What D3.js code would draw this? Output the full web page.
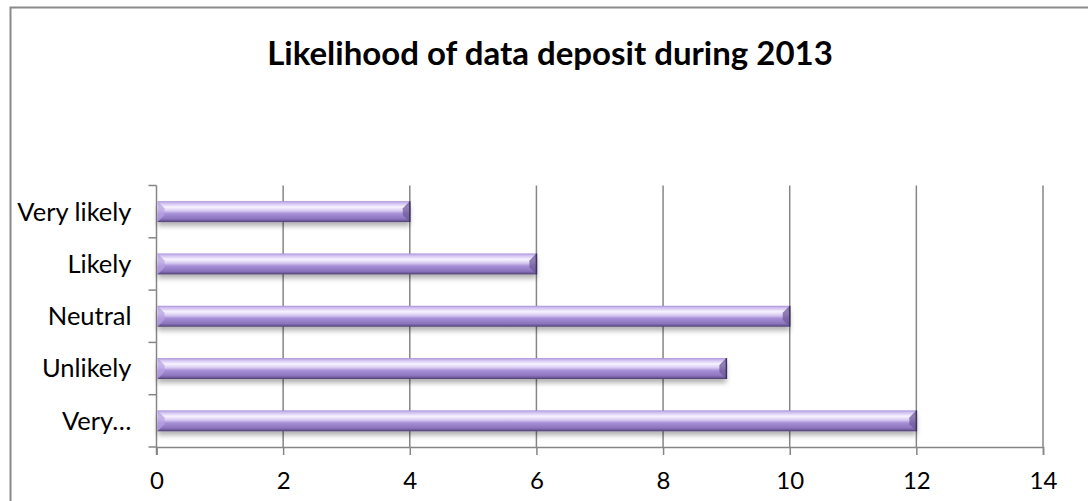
<!DOCTYPE html>
<html>
<head>
<meta charset="utf-8">
<script src="https://cdn.jsdelivr.net/npm/d3@7"></script>
<style>
  body { margin: 0; background: #fff; }
  svg { display: block; }
  text { font-family: "Lato", "Open Sans", sans-serif; fill: #000; }
</style>
</head>
<body>
<div id="chart"></div>
<script>
// chart data
const categories = ["Very likely", "Likely", "Neutral", "Unlikely", "Very\u2026"]
const values = [4, 6, 10, 9, 12]
const xTicks = [0, 2, 4, 6, 8, 10, 12, 14]
const title = "Likelihood of data deposit during 2013"

const W = 1088, H = 501
const margin = {top: 185.5, right: 45, bottom: 54, left: 156.5}
const width = W - margin.left - margin.right,
  height = H - margin.top - margin.bottom

const svg = d3.select("#chart")
  .append("svg")
  .attr("width", W)
  .attr("height", H)

// gradients for the bevelled bars
const defs = svg.append("defs")
const grad = defs.append("linearGradient")
  .attr("id", "barGrad")
  .attr("x1", 0).attr("y1", 0).attr("x2", 0).attr("y2", 1)
const stops = [
  [0, "#a78fd6"], [0.08, "#cbb9ef"], [0.28, "#f8f3ff"], [0.45, "#d9ccf2"],
  [0.6, "#a68fd6"], [0.85, "#8b74bd"], [0.93, "#6d5998"], [1, "#4d3e70"]
]
stops.forEach(s => grad.append("stop").attr("offset", s[0]).attr("stop-color", s[1]))

const shadow = defs.append("filter")
  .attr("id", "shadow")
  .attr("x", -0.05).attr("y", -0.3).attr("width", 1.1).attr("height", 1.8)
shadow.append("feDropShadow")
  .attr("dx", 0).attr("dy", 4).attr("stdDeviation", 2.5)
  .attr("flood-color", "#000").attr("flood-opacity", 0.3)

// outer frame
svg.append("rect")
  .attr("x", 10.5).attr("y", 7.5)
  .attr("width", W + 10).attr("height", H + 10)
  .attr("fill", "none")
  .attr("stroke", "#8a8a8a")
  .attr("stroke-width", 2)

// title
svg.append("text")
  .attr("x", 550)
  .attr("y", 65)
  .attr("text-anchor", "middle")
  .style("font-size", "33px")
  .style("font-weight", "bold")
  .text(title)

const g = svg.append("g")
  .attr("transform", `translate(${margin.left}, ${margin.top})`)

const x = d3.scaleLinear()
  .domain([0, 14])
  .range([0, width])

const y = d3.scaleBand()
  .domain(categories)
  .range([0, height])
  .paddingInner(0.6)
  .paddingOuter(0.3)

const yTicks = d3.scaleBand().domain(categories).range([0, height])

// vertical gridlines
g.append("g")
  .selectAll("line")
  .data(xTicks.filter(d => d > 0))
  .join("line")
    .attr("x1", d => x(d)).attr("x2", d => x(d))
    .attr("y1", 0).attr("y2", height)
    .attr("stroke", "#868686")
    .attr("stroke-width", 1.5)

// x axis
const xAxis = g.append("g")
  .attr("transform", `translate(0, ${height})`)
  .call(d3.axisBottom(x).tickValues(xTicks).tickSize(8).tickPadding(17).tickFormat(d3.format("d")))
xAxis.select(".domain").attr("stroke", "#868686").attr("stroke-width", 1.5)
xAxis.selectAll(".tick line").attr("stroke", "#868686").attr("stroke-width", 1.5)
xAxis.selectAll("text").style("font-size", "24px").style("font-family", "Lato, sans-serif").attr("fill", "#000")

// y axis ticks at band boundaries
const bounds = categories.map(c => yTicks(c)).concat([height])
g.append("g")
  .selectAll("line")
  .data(bounds)
  .join("line")
    .attr("x1", -8).attr("x2", 0)
    .attr("y1", d => d).attr("y2", d => d)
    .attr("stroke", "#868686")
    .attr("stroke-width", 1.5)

g.append("line")
  .attr("x1", 0).attr("x2", 0)
  .attr("y1", 0).attr("y2", height + 8)
  .attr("stroke", "#868686")
  .attr("stroke-width", 1.5)

// category labels
g.append("g")
  .selectAll("text")
  .data(categories)
  .join("text")
    .attr("x", -25)
    .attr("y", d => yTicks(d) + yTicks.bandwidth() / 2)
    .attr("dy", "0.35em")
    .attr("text-anchor", "end")
    .style("font-size", "25.5px")
    .text(d => d)

// bars
const bars = g.append("g")
  .selectAll("g")
  .data(categories.map((c, i) => ({cat: c, value: values[i]})))
  .join("g")
    .attr("transform", d => `translate(1, ${y(d.cat)})`)

const bh = y.bandwidth()
const bev = 7

bars.append("rect")
  .attr("width", d => x(d.value) - 1)
  .attr("height", bh)
  .attr("fill", "url(#barGrad)")
  .attr("filter", "url(#shadow)")

// left bevel, lighter
bars.append("path")
  .attr("d", `M0,0 L${bev},${bev} L${bev},${bh - bev} L0,${bh} Z`)
  .attr("fill", "#b7a2e2")
  .attr("opacity", 0.75)

// right bevel, darker
bars.append("path")
  .attr("d", d => {
    const w = x(d.value) - 1
    return `M${w},0 L${w - bev},${bev} L${w - bev},${bh - bev} L${w},${bh} Z`
  })
  .attr("fill", "#6d5a98")
  .attr("opacity", 0.75)

bars.append("line")
  .attr("x1", d => x(d.value) - 1).attr("x2", d => x(d.value) - 1)
  .attr("y1", 0).attr("y2", bh)
  .attr("stroke", "#3e3160")
  .attr("stroke-width", 1.5)
</script>
</body>
</html>
